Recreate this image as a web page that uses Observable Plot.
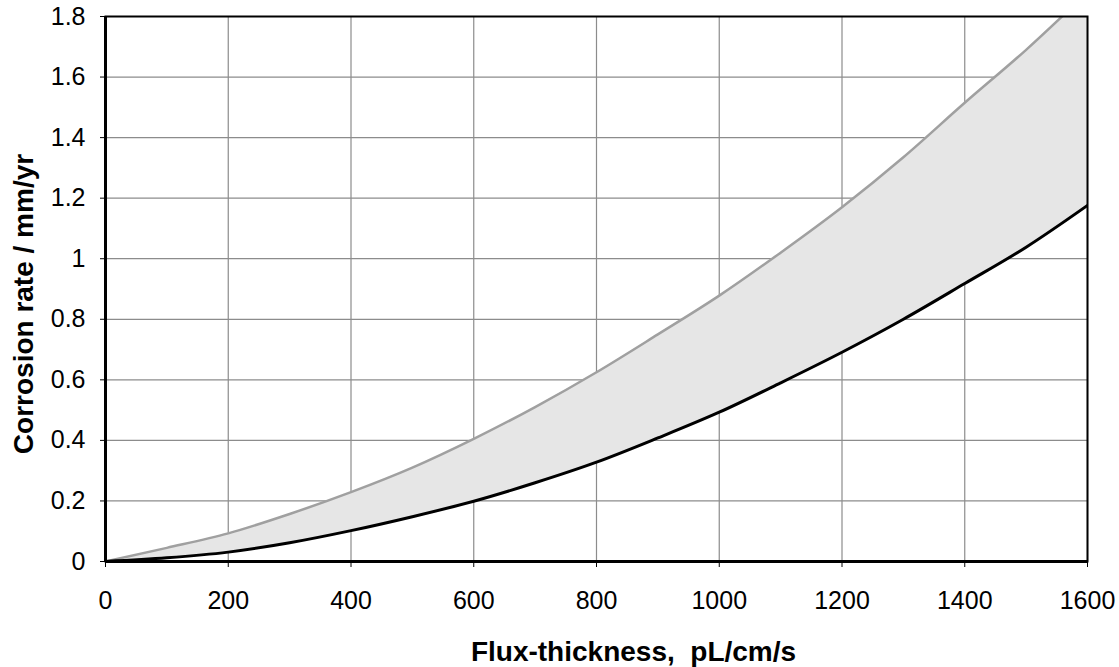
<!DOCTYPE html>
<html>
<head>
<meta charset="utf-8">
<script src="https://cdn.jsdelivr.net/npm/d3@7"></script>
<script src="https://cdn.jsdelivr.net/npm/@observablehq/plot@0.6"></script>
<style>
  html, body { margin: 0; padding: 0; background: #fff; }
  #chart svg { display: block; }
</style>
</head>
<body>
<div id="chart"></div>
<script>
// Flux-thickness (pL/cm/s)
const fluxThickness = [0, 100, 200, 300, 400, 500, 600, 700, 800, 900, 1000, 1100, 1200, 1300, 1400, 1500, 1600];
// Upper bound corrosion rate (mm/yr) - grey line
const upperRate = [0, 0.045, 0.093, 0.157, 0.229, 0.31, 0.405, 0.51, 0.625, 0.75, 0.878, 1.02, 1.17, 1.335, 1.515, 1.69, 1.88];
// Lower bound corrosion rate (mm/yr) - black line
const lowerRate = [0, 0.012, 0.031, 0.062, 0.102, 0.148, 0.199, 0.26, 0.328, 0.408, 0.493, 0.59, 0.691, 0.80, 0.918, 1.038, 1.176];

const xTicks = [0, 200, 400, 600, 800, 1000, 1200, 1400, 1600];
const yTicks = [0, 0.2, 0.4, 0.6, 0.8, 1, 1.2, 1.4, 1.6, 1.8];
const xTitle = "Flux-thickness,  pL/cm/s";
const yTitle = "Corrosion rate / mm/yr";

const rows = fluxThickness.map((x, i) => ({x, hi: upperRate[i], lo: lowerRate[i]}));

const chart = Plot.plot({
  width: 1119,
  height: 667,
  marginLeft: 105,
  marginRight: 32,
  marginTop: 16,
  marginBottom: 106,
  style: {fontFamily: "'Liberation Sans', Arial, sans-serif", fontSize: "25px", background: "#fff", color: "#000"},
  x: {domain: [0, 1600], ticks: xTicks},
  y: {domain: [0, 1.8], ticks: yTicks},
  marks: [
    Plot.gridX(xTicks, {stroke: "#8c8c8c", strokeOpacity: 1, strokeWidth: 1.2}),
    Plot.gridY(yTicks, {stroke: "#8c8c8c", strokeOpacity: 1, strokeWidth: 1.2}),
    Plot.areaY(rows, {x: "x", y1: "lo", y2: "hi", fill: "#e6e6e6", fillOpacity: 1, curve: "monotone-x", clip: true}),
    Plot.line(rows, {x: "x", y: "hi", stroke: "#a0a0a0", strokeWidth: 2.5, curve: "monotone-x", clip: true}),
    Plot.line(rows, {x: "x", y: "lo", stroke: "#000", strokeWidth: 3, curve: "monotone-x", clip: true}),
    Plot.frame({stroke: "#000", strokeWidth: 2}),
    Plot.ruleX([0], {stroke: "#000", strokeWidth: 3}),
    Plot.ruleY([0], {stroke: "#000", strokeWidth: 3}),
    Plot.axisX(xTicks, {tickSize: 6, tickPadding: 24, fontSize: 25, label: null, stroke: "#000",
      tickFormat: d => String(d)}),
    Plot.axisY(yTicks, {tickSize: 5, tickPadding: 15, fontSize: 25, label: null, stroke: "#000",
      tickFormat: d => String(+d.toFixed(1))}),
    Plot.text([xTitle], {frameAnchor: "bottom", textAnchor: "middle", lineAnchor: "middle", dx: 37, dy: 91,
      fontSize: 28, fontWeight: "bold", text: d => d}),
    Plot.text([yTitle], {frameAnchor: "left", textAnchor: "middle", lineAnchor: "middle", dx: -81, dy: 15,
      rotate: -90, fontSize: 28, fontWeight: "bold", text: d => d})
  ]
});
document.getElementById("chart").appendChild(chart);
</script>
</body>
</html>
